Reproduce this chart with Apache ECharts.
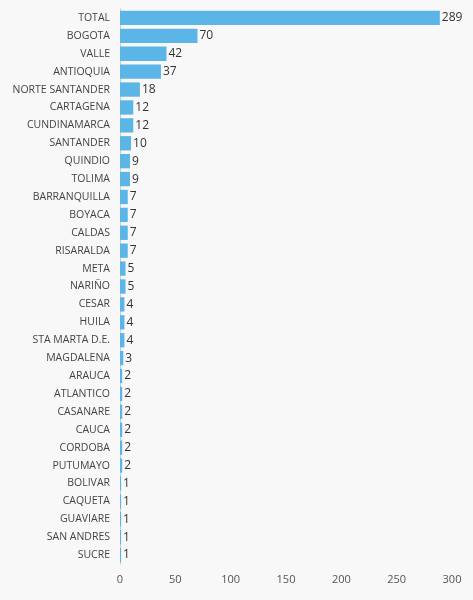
<!DOCTYPE html>
<html>
<head>
<meta charset="utf-8">
<script src="https://cdn.jsdelivr.net/npm/echarts@6/dist/echarts.min.js"></script>
<style>html,body{margin:0;padding:0;background:#f8f8f8;}#bar{width:473px;height:600px;}</style>
</head>
<body>
<div id="bar"></div>
<script>
var categories = ['TOTAL','BOGOTA','VALLE','ANTIOQUIA','NORTE SANTANDER','CARTAGENA','CUNDINAMARCA','SANTANDER','QUINDIO','TOLIMA','BARRANQUILLA','BOYACA','CALDAS','RISARALDA','META','NARIÑO','CESAR','HUILA','STA MARTA D.E.','MAGDALENA','ARAUCA','ATLANTICO','CASANARE','CAUCA','CORDOBA','PUTUMAYO','BOLIVAR','CAQUETA','GUAVIARE','SAN ANDRES','SUCRE'];
var values = [289,70,42,37,18,12,12,10,9,9,7,7,7,7,5,5,4,4,4,3,2,2,2,2,2,2,1,1,1,1,1];
var xTicks = [0,50,100,150,200,250,300];

var myChart = echarts.init(document.getElementById('bar'));
var option = {
    backgroundColor: '#f8f8f8',
    textStyle: {fontFamily: 'Open Sans'},
    grid: {left: 120, right: 21, top: 9, bottom: 36},
    xAxis: {
        type: 'value', min: xTicks[0], max: xTicks[xTicks.length - 1], interval: 50,
        splitLine: {show: false},
        axisLine: {show: false}, axisTick: {show: false},
        axisLabel: {color: '#555', fontSize: 11, margin: 10}
    },
    yAxis: {
        type: 'category', data: categories, inverse: true,
        axisLine: {show: true, lineStyle: {color: '#ccc'}},
        axisTick: {show: false},
        axisLabel: {color: '#444', fontSize: 10.5, margin: 10}
    },
    series: [{
        type: 'bar', data: values, barWidth: '80%',
        itemStyle: {color: '#5bb5e6'},
        label: {show: true, position: 'right', color: '#333', fontSize: 12, distance: 2}
    }]
};
myChart.setOption(option);
window.addEventListener('resize', function() { myChart.resize(); });
</script>
</body>
</html>
